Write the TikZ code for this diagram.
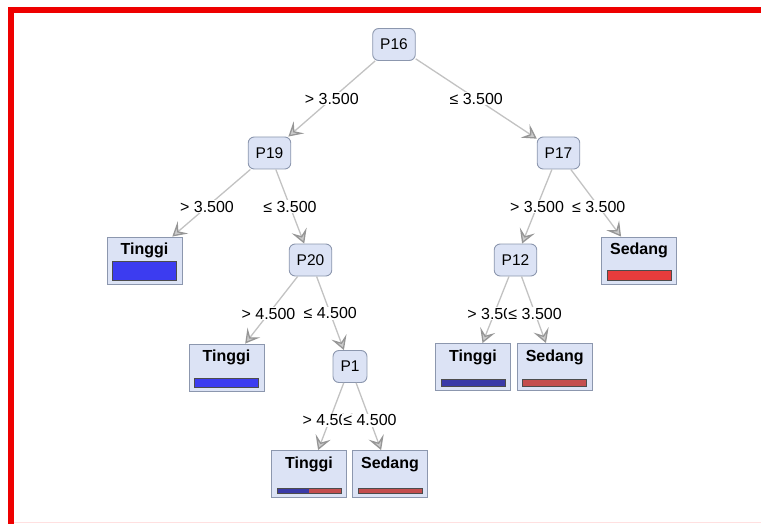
\documentclass[tikz,border=0pt]{standalone}
\usepackage{fontspec}
\setmainfont{Liberation Sans}
\usepackage{tikz}
\usetikzlibrary{arrows.meta}

\definecolor{nodefill}{HTML}{DCE3F5}
\definecolor{nodeline}{HTML}{8C97AE}
\definecolor{edgeline}{HTML}{C2C2C2}
\definecolor{tipline}{HTML}{969696}
\definecolor{barblue}{HTML}{3C3CF0}
\definecolor{barred}{HTML}{E83C3C}
\definecolor{darkblue}{HTML}{3A3AA8}
\definecolor{darkred}{HTML}{C44E4E}
\definecolor{framered}{HTML}{EE0000}

% bar inside a leaf: node, bar height, colour
\newcommand{\leafbar}[3]{%
  \draw[fill=#3, draw=black!70, line width=0.8pt]
    ([xshift=6pt,yshift=4.5pt]#1.south west) rectangle ([xshift=-6pt,yshift=4.5pt+#2]#1.south east);}

\begin{document}
\begin{tikzpicture}[x=1pt, y=-1pt,
    split/.style={draw=nodeline, fill=nodefill, rounded corners=6pt, line width=0.9pt,
      minimum height=32pt, inner xsep=7.5pt, font=\fontsize{15.5}{18}\selectfont},
    leaf/.style={draw=nodeline, fill=nodefill, line width=0.9pt, minimum width=75pt,
      inner ysep=2pt, text height=15.5pt, text depth=27.5pt,
      font=\fontsize{16}{19}\selectfont\bfseries},
    cond/.style={fill=white, inner sep=1pt, font=\fontsize{16}{19}\selectfont},
    edge/.style={draw=edgeline, line width=1.3pt,
      -{Stealth[length=14pt, width=16pt, inset=6pt, fill=tipline!50, color=tipline]}}]
  \useasboundingbox (0,0) rectangle (761,524);
  % frame
  \fill[framered] (8,7) rectangle (14,524);
  \fill[framered] (8,7) rectangle (761,13);
  \draw[red!12, line width=1pt] (14,522.5) -- (761,522.5);

  % splits
  \node[split] (p16) at (394,44.5) {P16};
  \node[split] (p19) at (269.5,153) {P19};
  \node[split] (p17) at (558.5,153) {P17};
  \node[split] (p20) at (310.5,260) {P20};
  \node[split] (p12) at (515.5,260) {P12};
  \node[split] (p1) at (350,366.5) {P1};

  % leaves
  \node[leaf] (tinggiA) at (144.5,260.5) {Tinggi};
  \node[leaf] (sedangA) at (639,260.5) {Sedang};
  \node[leaf] (tinggiB) at (226.5,367.5) {Tinggi};
  \node[leaf] (tinggiC) at (473,367) {Tinggi};
  \node[leaf] (sedangB) at (554.7,367) {Sedang};
  \node[leaf] (tinggiD) at (309,474) {Tinggi};
  \node[leaf] (sedangC) at (390,474) {Sedang};

  \leafbar{tinggiA}{19pt}{barblue}
  \leafbar{sedangA}{10pt}{barred}
  \leafbar{tinggiB}{9pt}{barblue}
  \leafbar{tinggiC}{7pt}{darkblue}
  \leafbar{sedangB}{7pt}{darkred}
  \fill[darkred] ([xshift=6pt,yshift=4.5pt]tinggiD.south west) rectangle ([xshift=-6pt,yshift=10pt]tinggiD.south east);
  \fill[darkblue] ([xshift=6pt,yshift=4.5pt]tinggiD.south west) rectangle ([yshift=10pt]tinggiD.south);
  \draw[black!70, line width=0.8pt] ([xshift=6pt,yshift=4.5pt]tinggiD.south west) rectangle ([xshift=-6pt,yshift=10pt]tinggiD.south east);
  \leafbar{sedangC}{5.5pt}{darkred}

  % edges
  \draw[edge] (p16) -- (p19);
  \draw[edge] (p16) -- (p17);
  \draw[edge] (p19) -- (tinggiA);
  \draw[edge] (p19) -- (p20);
  \draw[edge] (p17) -- (p12);
  \draw[edge] (p17) -- (sedangA);
  \draw[edge] (p20) -- (tinggiB);
  \draw[edge] (p20) -- (p1);
  \draw[edge] (p12) -- (tinggiC);
  \draw[edge] (p12) -- (sedangB);
  \draw[edge] (p1) -- (tinggiD);
  \draw[edge] (p1) -- (sedangC);

  % conditions, halfway between centres
  \path (p16.center) -- node[cond] {> 3.500} (p19.center);
  \path (p16.center) -- node[cond] {≤ 3.500} (p17.center);
  \path (p19.center) -- node[cond] {> 3.500} (tinggiA.center);
  \path (p19.center) -- node[cond] {≤ 3.500} (p20.center);
  \path (p17.center) -- node[cond] {> 3.500} (p12.center);
  \path (p17.center) -- node[cond] {≤ 3.500} (sedangA.center);
  \path (p20.center) -- node[cond] {> 4.500} (tinggiB.center);
  \path (p20.center) -- node[cond] {≤ 4.500} (p1.center);
  \path (p12.center) -- node[cond] {> 3.500} (tinggiC.center);
  \path (p12.center) -- node[cond] {≤ 3.500} (sedangB.center);
  \path (p1.center) -- node[cond] {> 4.500} (tinggiD.center);
  \path (p1.center) -- node[cond] {≤ 4.500} (sedangC.center);
\end{tikzpicture}
\end{document}
